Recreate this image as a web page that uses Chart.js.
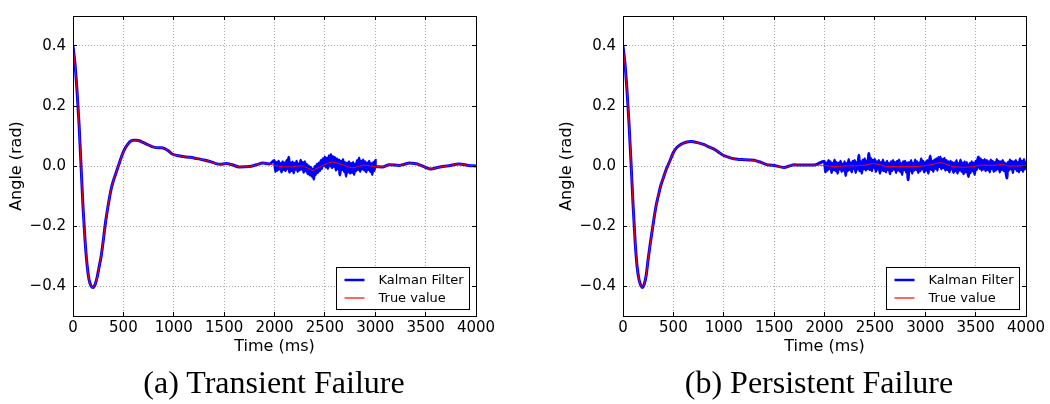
<!DOCTYPE html>
<html>
<head>
<meta charset="utf-8">
<script src="https://cdn.jsdelivr.net/npm/chart.js"></script>
<style>
  body { margin: 0; background: #fff; width: 1050px; height: 404px; overflow: hidden; position: relative; }
  canvas { position: absolute; top: 0; }
  #chart-a { left: 0; }
  #chart-b { left: 550px; }
  .caption { position: absolute; top: 366px; width: 500px; text-align: center;
             font-family: 'Liberation Serif', 'Times New Roman', serif; font-size: 32px; line-height: 32px; color: #000; }
</style>
</head>
<body>
<canvas id="chart-a" width="500" height="365"></canvas>
<canvas id="chart-b" width="500" height="365"></canvas>
<div class="caption" style="left: 24px;">(a) Transient Failure</div>
<div class="caption" style="left: 569px;">(b) Persistent Failure</div>
<script>
// axis ticks
const xTicks = [0, 500, 1000, 1500, 2000, 2500, 3000, 3500, 4000];
const yTicks = [-0.4, -0.2, 0.0, 0.2, 0.4];
const seriesLabels = ['Kalman Filter', 'True value'];

// (a) transient failure - true angle
const timeA = [0,20,40,60,80,100,120,140,160,180,
  200,220,240,260,280,300,320,340,360,380,
  400,425,450,475,500,525,550,575,600,625,
  650,700,750,800,850,880,910,950,980,1050,
  1130,1200,1260,1300,1360,1420,1460,1520,1580,1650,
  1750,1820,1885,1950,2000,2080,2180,2260,2310,2350,
  2380,2420,2460,2520,2580,2630,2680,2730,2780,2830,
  2890,2950,3000,3070,3140,3240,3290,3340,3390,3440,
  3500,3550,3630,3730,3830,3930,4000];
const trueA = [0.40,0.34,0.25,0.14,0.0,-0.14,-0.25,-0.33,-0.38,-0.40,
  -0.405,-0.395,-0.37,-0.335,-0.30,-0.25,-0.195,-0.15,-0.11,-0.075,
  -0.05,-0.025,0.0,0.025,0.047,0.063,0.075,0.083,0.086,0.086,
  0.085,0.078,0.07,0.063,0.061,0.061,0.058,0.05,0.041,0.034,
  0.030,0.027,0.023,0.02,0.015,0.008,0.006,0.008,0.004,-0.003,
  -0.002,0.004,0.01,0.007,0.002,-0.002,-0.003,0.001,-0.004,-0.01,
  -0.015,-0.008,-0.001,0.008,0.013,0.009,0.004,-0.002,-0.006,-0.002,
  0.003,0.0,-0.002,-0.003,0.004,0.002,0.006,0.01,0.008,0.004,
  -0.005,-0.01,-0.004,0.001,0.007,0.002,0.0];
// (a) Kalman estimate during the failure window, one sample every 10 ms from 2000 to 3000
const kalmanA = [
  0.018,-0.018,0.012,-0.014,0.016,-0.010,0.008,-0.020,0.014,-0.012,
  0.010,-0.016,0.018,-0.009,0.029,-0.021,0.011,-0.015,0.013,-0.023,
  0.009,-0.011,0.016,-0.018,0.007,-0.013,0.019,-0.010,0.012,-0.021,
  0.014,-0.016,0.006,-0.026,0.000,-0.030,-0.004,-0.034,-0.010,-0.044,
  -0.002,-0.028,0.006,-0.022,0.010,-0.016,0.018,-0.008,0.024,0.002,
  0.030,-0.004,0.026,-0.008,0.034,0.000,0.038,-0.006,0.032,-0.002,
  0.028,-0.014,0.024,-0.010,0.020,-0.030,0.016,-0.012,0.022,-0.018,
  0.012,-0.034,0.010,-0.020,0.014,-0.024,0.008,-0.022,0.012,-0.028,
  0.006,-0.016,0.018,-0.012,0.027,-0.018,0.016,-0.010,0.020,-0.014,
  0.014,-0.020,0.010,-0.012,0.016,-0.018,0.008,-0.028,0.012,-0.016,
  0.018];

// (b) persistent failure - true angle
const timeB = [0,20,40,60,80,100,120,140,160,180,
  190,210,230,250,270,290,310,330,350,375,
  400,425,450,475,500,525,550,575,600,625,
  650,675,700,750,800,850,900,950,1000,1050,
  1100,1150,1200,1250,1300,1350,1400,1450,1500,1550,
  1600,1650,1700,1750,1800,1900,2000,2100,2200,2300,
  2400,2480,2550,2620,2750,2875,3000,3080,3155,3220,
  3280,3400,3470,3570,3670,3770,3830,3900,4000];
const trueB = [0.40,0.34,0.25,0.14,0.01,-0.13,-0.25,-0.335,-0.38,-0.40,
  -0.405,-0.395,-0.365,-0.31,-0.26,-0.215,-0.17,-0.13,-0.10,-0.065,
  -0.04,-0.015,0.005,0.025,0.045,0.058,0.066,0.072,0.076,0.079,
  0.081,0.082,0.081,0.077,0.072,0.064,0.057,0.046,0.035,0.029,
  0.024,0.022,0.021,0.020,0.019,0.014,0.008,0.003,0.002,-0.002,
  -0.005,0.0,0.004,0.003,0.003,0.003,0.002,-0.002,0.0,0.001,
  0.003,0.008,0.004,-0.002,-0.002,-0.002,0.001,0.006,0.011,0.004,
  -0.002,-0.004,-0.002,0.003,0.002,0.005,0.0,0.0,0.001];
// (b) Kalman estimate after the failure starts, one sample every 10 ms from 2000 to 4000
const kalmanB = [
  0.016,-0.020,0.010,-0.014,0.018,-0.008,0.014,-0.022,0.008,-0.012,
  0.020,-0.016,0.012,-0.024,0.010,-0.010,0.016,-0.018,0.006,-0.014,
  0.014,-0.032,0.008,-0.016,0.022,-0.012,0.010,-0.020,0.016,-0.008,
  0.018,-0.022,0.012,-0.010,0.036,-0.016,0.014,-0.024,0.020,-0.010,
  0.024,-0.014,0.016,-0.008,0.042,-0.012,0.026,-0.016,0.020,-0.004,
  0.022,-0.018,0.014,-0.010,0.018,-0.024,0.012,-0.014,0.020,-0.016,
  0.010,-0.020,0.016,-0.012,0.008,-0.026,0.014,-0.016,0.018,-0.010,
  0.012,-0.022,0.016,-0.014,0.020,-0.018,0.008,-0.028,0.014,-0.012,
  0.016,-0.020,0.010,-0.046,0.012,-0.016,0.018,-0.024,0.008,-0.014,
  0.020,-0.012,0.014,-0.022,0.010,-0.016,0.024,-0.010,0.016,-0.020,
  0.012,-0.014,0.018,-0.024,0.010,0.033,-0.012,0.016,-0.018,0.020,
  -0.008,0.024,-0.014,0.028,-0.002,0.030,-0.010,0.022,-0.006,0.026,
  -0.014,0.018,-0.012,0.014,-0.020,0.016,-0.010,0.012,-0.022,0.010,
  -0.016,0.018,-0.024,0.008,-0.014,0.020,-0.018,0.010,-0.026,0.014,
  -0.020,0.012,-0.014,-0.035,0.008,-0.022,0.014,-0.016,0.010,-0.028,
  0.016,-0.012,0.020,0.030,-0.008,0.024,-0.014,0.018,-0.010,0.022,
  -0.016,0.018,-0.012,0.014,-0.020,0.020,-0.008,0.016,-0.018,0.012,
  -0.014,0.022,-0.010,0.016,-0.020,0.014,-0.012,0.018,-0.016,0.010,
  -0.018,-0.040,0.012,-0.014,0.020,-0.010,0.016,-0.022,0.014,-0.008,
  0.018,-0.016,0.012,-0.020,0.024,-0.012,0.016,-0.018,0.022,-0.010,
  0.016];
const sampleStep = 10;

Chart.defaults.font.family = "'DejaVu Sans', sans-serif";
Chart.defaults.color = '#000';

// frame, inward tick marks and boxed legend (matplotlib classic look)
const framePlugin = {
    id: 'frame',
    afterDraw(chart) {
        const { ctx, chartArea: a, scales } = chart;
        const px = v => Math.floor(v) + 0.5;
        ctx.save();
        ctx.strokeStyle = '#000';
        ctx.lineWidth = 1;
        ctx.setLineDash([]);
        ctx.beginPath();
        xTicks.forEach(v => {
            const x = px(scales.x.getPixelForValue(v));
            ctx.moveTo(x, a.bottom); ctx.lineTo(x, a.bottom - 4);
            ctx.moveTo(x, a.top); ctx.lineTo(x, a.top + 4);
        });
        yTicks.forEach(v => {
            const y = px(scales.y.getPixelForValue(v));
            ctx.moveTo(a.left, y); ctx.lineTo(a.left + 4, y);
            ctx.moveTo(a.right, y); ctx.lineTo(a.right - 4, y);
        });
        ctx.stroke();
        ctx.strokeRect(px(a.left), px(a.top), Math.round(a.right - a.left), Math.round(a.bottom - a.top));

        // legend box, lower right
        const w = 133, h = 42;
        const bx = Math.floor(a.right - 7 - w) + 0.5, by = Math.floor(a.bottom - 7 - h) + 0.5;
        ctx.fillStyle = '#fff';
        ctx.fillRect(bx, by, w, h);
        ctx.strokeStyle = '#000';
        ctx.strokeRect(bx, by, w, h);
        ctx.font = "13px 'DejaVu Sans'";
        ctx.textBaseline = 'middle';
        const sampleWidths = [2.5, 1.2];
        chart.data.datasets.forEach((ds, i) => {
            const y = Math.round(by + 12 + i * 18);
            ctx.strokeStyle = ds.borderColor;
            ctx.lineWidth = sampleWidths[i];
            ctx.beginPath();
            ctx.moveTo(bx + 8, y); ctx.lineTo(bx + 28, y);
            ctx.stroke();
            ctx.fillStyle = '#000';
            ctx.fillText(ds.label, bx + 42, y + 1);
        });
        ctx.restore();
    }
};

function makeChart(id, time, truth, kalman, failStart) {
    const truePts = time.map((t, i) => ({ x: t, y: truth[i] }));
    const failEnd = failStart + (kalman.length - 1) * sampleStep;
    const kalmanPts = truePts.filter(p => p.x < failStart)
        .concat(kalman.map((v, i) => ({ x: failStart + i * sampleStep, y: v })))
        .concat(truePts.filter(p => p.x >= failEnd && failEnd < 4000));

    const gridOpts = { color: '#a8a8a8', drawTicks: false };
    const borderOpts = { display: false, dash: [1, 2] };

    new Chart(document.getElementById(id).getContext('2d'), {
        type: 'line',
        data: {
            datasets: [{
                label: seriesLabels[0],
                data: kalmanPts,
                borderColor: '#0000ff',
                borderWidth: 3,
                pointRadius: 0,
                order: 1,
                cubicInterpolationMode: 'monotone'
            }, {
                label: seriesLabels[1],
                data: truePts,
                borderColor: '#ff0000',
                borderWidth: 1,
                pointRadius: 0,
                order: 0,
                cubicInterpolationMode: 'monotone'
            }]
        },
        options: {
            responsive: false,
            animation: false,
            devicePixelRatio: 1,
            layout: { padding: { left: 0, top: 6, right: 24, bottom: 0 } },
            plugins: { legend: { display: false }, tooltip: { enabled: false } },
            scales: {
                x: {
                    type: 'linear',
                    min: 0,
                    max: 4000,
                    afterBuildTicks: s => { s.ticks = xTicks.map(v => ({ value: v })); },
                    afterFit: s => { s.height = 49; },
                    grid: gridOpts,
                    border: borderOpts,
                    ticks: { autoSkip: false, maxRotation: 0, padding: 3, font: { size: 15 },
                             callback: v => String(v) },
                    title: { display: true, text: 'Time (ms)', font: { size: 16 }, padding: { top: 0, bottom: 9 } }
                },
                y: {
                    type: 'linear',
                    min: -0.5,
                    max: 0.5,
                    afterBuildTicks: s => { s.ticks = yTicks.map(v => ({ value: v })); },
                    afterFit: s => { s.width = 73; },
                    grid: gridOpts,
                    border: borderOpts,
                    ticks: { padding: 7, font: { size: 15 },
                             callback: v => (v < 0 ? '\u2212' : '') + Math.abs(v).toFixed(1) },
                    title: { display: true, text: 'Angle (rad)', font: { size: 16 }, padding: { top: 7, bottom: 0 } }
                }
            }
        },
        plugins: [framePlugin]
    });
}

makeChart('chart-a', timeA, trueA, kalmanA, 2000);
makeChart('chart-b', timeB, trueB, kalmanB, 2000);
</script>
</body>
</html>
